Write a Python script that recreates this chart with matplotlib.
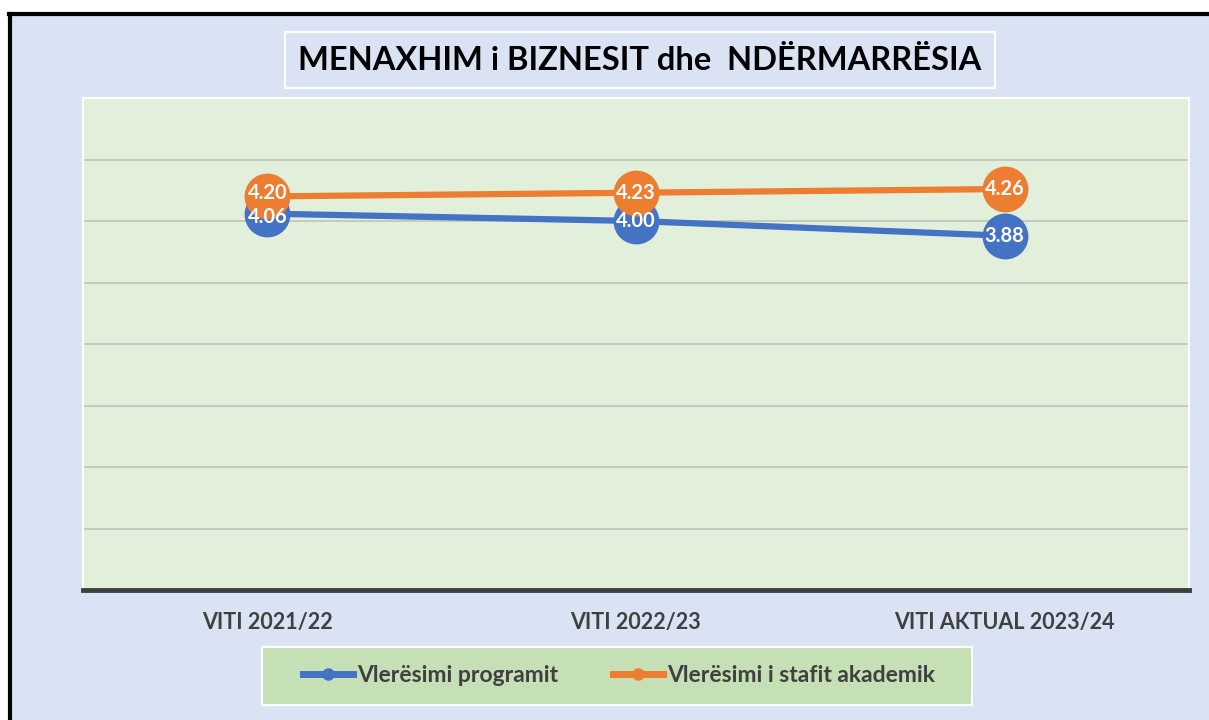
import matplotlib.pyplot as plt
from matplotlib.patches import Rectangle
from matplotlib.lines import Line2D
import numpy as np

plt.rcParams['font.family'] = ['Lato', 'DejaVu Sans']

categories = ["VITI 2021/22", "VITI 2022/23", "VITI AKTUAL 2023/24"]
programi = [4.06, 4.00, 3.88]
stafi = [4.20, 4.23, 4.26]
series_names = ["Vlerësimi programit", "Vlerësimi i stafit akademik"]
title = "MENAXHIM i BIZNESIT dhe  NDËRMARRËSIA"

W, H = 1209, 720
fig = plt.figure(figsize=(W / 100, H / 100), dpi=100, facecolor="white")

def fx(px):
    return px / W

def fy(py):
    return 1 - py / H

# chart background and black frame (top + left only)
fig.patches.append(Rectangle((fx(10), 0), 1, fy(15), transform=fig.transFigure,
                             facecolor="#DAE3F3", edgecolor="none", zorder=-10))
fig.lines.append(Line2D([fx(10), fx(10)], [0, fy(14)], transform=fig.transFigure,
                        color="black", lw=3))
fig.lines.append(Line2D([fx(8.5), 1], [fy(14), fy(14)], transform=fig.transFigure,
                        color="black", lw=3))

ax = fig.add_axes([fx(83), fy(590), fx(1189) - fx(83), fy(98) - fy(590)])
ax.set_facecolor("#E2EFDA")
for s in ["top", "left", "right"]:
    ax.spines[s].set_color("white")
    ax.spines[s].set_linewidth(1.5)
ax.spines["bottom"].set_color("#404040")
ax.spines["bottom"].set_linewidth(3.5)

x = np.arange(len(categories))
ax.set_xlim(-0.5, len(categories) - 0.5)
ax.set_ylim(1, 5)
ax.set_yticks(np.arange(1.5, 5.0, 0.5))
ax.yaxis.grid(True, color="#BCC6B6", lw=1.2)
ax.set_axisbelow(True)
ax.tick_params(axis="y", left=False, labelleft=False)
ax.tick_params(axis="x", length=0, pad=16)
ax.set_xticks(x)
ax.set_xticklabels(categories, fontsize=15.5, fontweight="bold", color="#404040")

ax.plot(x, programi, color="#4472C4", lw=4.5, marker="o", ms=32,
        solid_capstyle="round", zorder=3)
ax.plot(x, stafi, color="#ED7D31", lw=4.5, marker="o", ms=32,
        solid_capstyle="round", zorder=4)

# data labels, pushed apart a little where the two series sit close together
for xi, vp, vs in zip(x, programi, stafi):
    nudge = 2.5 if vs - vp < 0.2 else 0
    ax.annotate(f"{vp:.2f}", (xi, vp), xytext=(0, -nudge), textcoords="offset points",
                ha="center", va="center", color="white", fontsize=14.5,
                fontweight="bold", zorder=5)
    ax.annotate(f"{vs:.2f}", (xi, vs), xytext=(0, nudge), textcoords="offset points",
                ha="center", va="center", color="white", fontsize=14.5,
                fontweight="bold", zorder=6)

# title box
fig.text(fx(640), fy(60), title, ha="center", va="center", fontsize=23.5,
         fontweight="bold", color="black",
         bbox=dict(boxstyle="square,pad=0.4", facecolor="#DAE3F3",
                   edgecolor="white", lw=1.5))

# legend box
fig.patches.append(Rectangle((fx(262), fy(705)), fx(972) - fx(262), fy(647) - fy(705),
                             transform=fig.transFigure, facecolor="#C5E0B4",
                             edgecolor="white", lw=1.5, zorder=1))
h1 = Line2D([], [], color="#4472C4", lw=5, marker="o", ms=8)
h2 = Line2D([], [], color="#ED7D31", lw=5, marker="o", ms=8)
fig.legend([h1, h2], series_names, loc="center", bbox_to_anchor=(fx(619), fy(676)),
           ncol=2, frameon=False, handlelength=2.2, handletextpad=0.15,
           columnspacing=2.4, prop=dict(size=16.5, weight="bold"),
           labelcolor="#404040")

fig.savefig("out.png", dpi=100, facecolor="white")
